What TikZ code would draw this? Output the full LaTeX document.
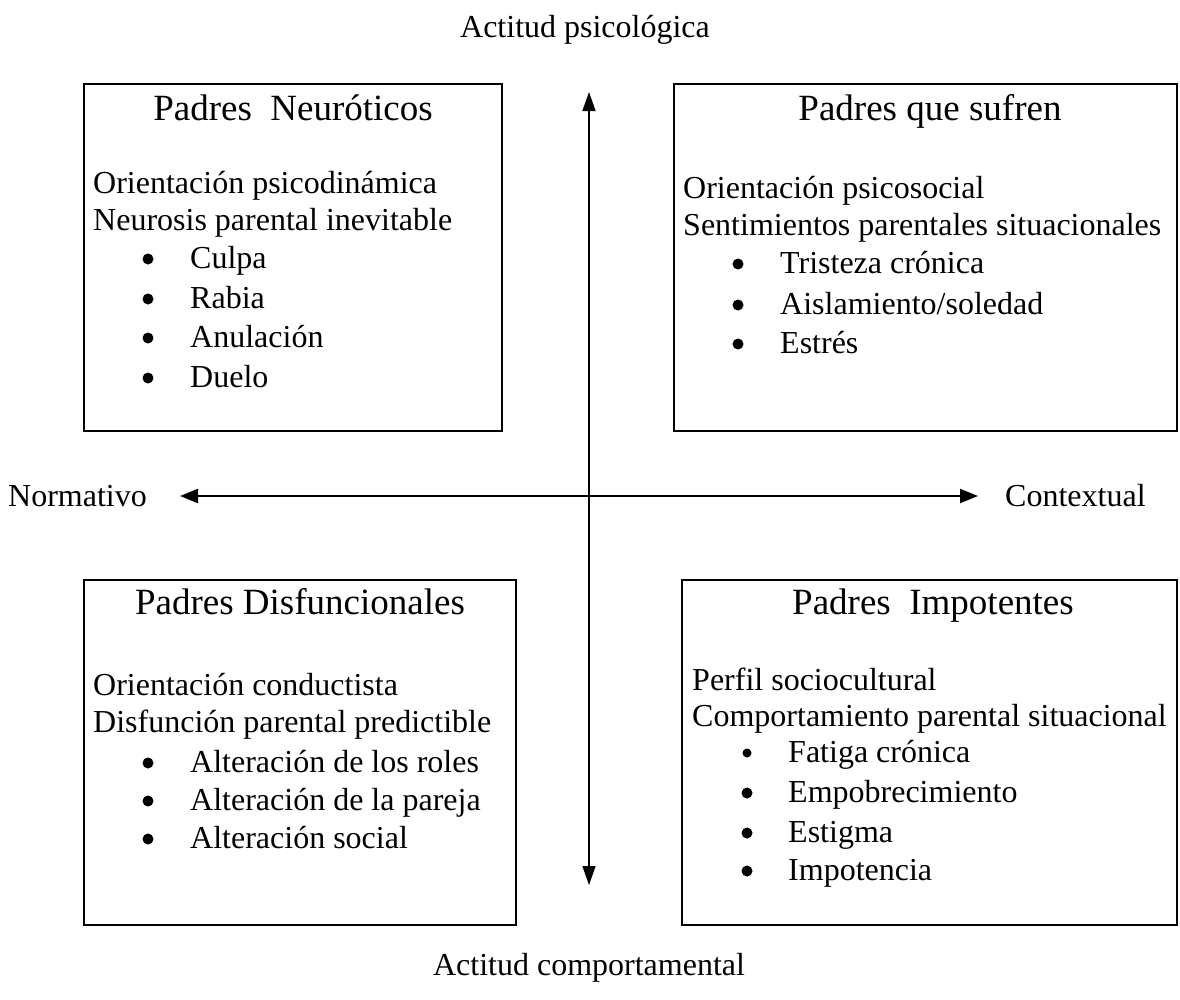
\documentclass[tikz,border=0pt]{standalone}
\usepackage{fontspec}
\setmainfont{Liberation Serif}
\usetikzlibrary{arrows.meta}
\begin{document}
\begin{tikzpicture}[x=1pt,y=-1pt,
  txt/.style={anchor=base west,inner sep=0pt,font=\fontsize{32}{38}\selectfont},
  ttl/.style={anchor=base,inner sep=0pt,font=\fontsize{37}{42}\selectfont},
  lbl/.style={anchor=base,inner sep=0pt,font=\fontsize{32}{38}\selectfont},
  bul/.style={circle,fill=black,inner sep=0pt,minimum size=11pt},
  quad/.style={draw=black,line width=2pt},
  axisv/.style={line width=1.5pt,{Triangle[length=19pt,width=13pt]}-{Triangle[length=19pt,width=13pt]}},
  axish/.style={line width=2.2pt,{Triangle[length=18pt,width=14pt]}-{Triangle[length=18pt,width=14pt]}}]
\useasboundingbox (0,0) rectangle (1180,999);
% boxes
\draw[quad] (84,84) rectangle (502,431);
\draw[quad] (674,84) rectangle (1177,431);
\draw[quad] (84,580) rectangle (516,925);
\draw[quad] (682,580) rectangle (1177,925);
% axes
\coordinate (vtop) at (589,92);
\coordinate (vbot) at (589,885);
\coordinate (hl) at (180,496);
\coordinate (hr) at (978,496);
\draw[axisv] (vtop) -- (vbot);
\draw[axish] (hl) -- (hr);
% axis labels
\node[lbl] (aps) at (585,37) {Actitud psicológica};
\node[lbl] (acm) at (589,975) {Actitud comportamental};
\node[txt] (nor) at (8,506) {Normativo};
\node[txt] (con) at (1005,506) {Contextual};
% top-left
\node[ttl] (t1) at (293,120) {Padres\ \ Neuróticos};
\node[txt] (a1) at (93,193) {Orientación psicodinámica};
\node[txt] (a2) at (93,230) {Neurosis parental inevitable};
\node[bul] (b11) at (148,259) {}; \node[txt] (c11) at (190,268) {Culpa};
\node[bul] (b12) at (148,299) {}; \node[txt] (c12) at (190,308) {Rabia};
\node[bul] (b13) at (148,338) {}; \node[txt] (c13) at (190,347) {Anulación};
\node[bul] (b14) at (148,378) {}; \node[txt] (c14) at (190,387) {Duelo};
% top-right
\node[ttl] (t2) at (930,120) {Padres que sufren};
\node[txt] (d1) at (683,198) {Orientación psicosocial};
\node[txt] (d2) at (683,235) {Sentimientos parentales situacionales};
\node[bul] (b21) at (738,264) {}; \node[txt] (c21) at (780,273) {Tristeza crónica};
\node[bul] (b22) at (738,305) {}; \node[txt] (c22) at (780,314) {Aislamiento/soledad};
\node[bul] (b23) at (738,344) {}; \node[txt] (c23) at (780,353) {Estrés};
% bottom-left
\node[ttl] (t3) at (300,614) {Padres Disfuncionales};
\node[txt] (e1) at (93,695) {Orientación conductista};
\node[txt] (e2) at (93,732) {Disfunción parental predictible};
\node[bul] (b31) at (148,763) {}; \node[txt] (c31) at (190,772) {Alteración de los roles};
\node[bul] (b32) at (148,801) {}; \node[txt] (c32) at (190,810) {Alteración de la pareja};
\node[bul] (b33) at (148,839) {}; \node[txt] (c33) at (190,848) {Alteración social};
% bottom-right
\node[ttl] (t4) at (933,614) {Padres\ \ Impotentes};
\node[txt] (f1) at (692,690) {Perfil sociocultural};
\node[txt] (f2) at (692,726) {Comportamiento parental situacional};
\node[bul,minimum size=9pt] (b41) at (747,753) {}; \node[txt] (c41) at (788,762) {Fatiga crónica};
\node[bul] (b42) at (747,793) {}; \node[txt] (c42) at (788,802) {Empobrecimiento};
\node[bul] (b43) at (747,833) {}; \node[txt] (c43) at (788,842) {Estigma};
\node[bul] (b44) at (747,871) {}; \node[txt] (c44) at (788,880) {Impotencia};
\end{tikzpicture}
\end{document}
